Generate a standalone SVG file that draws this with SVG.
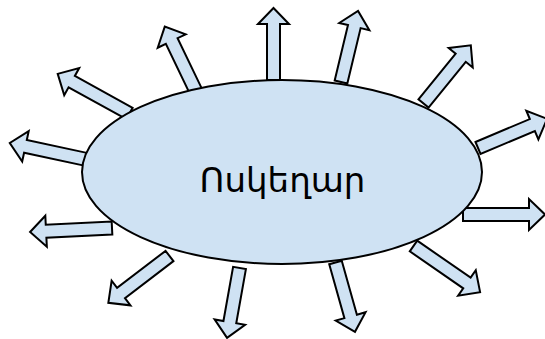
<svg xmlns="http://www.w3.org/2000/svg" width="545" height="339" viewBox="0 0 545 339">
<style>
.arr{fill:#cfe2f3;stroke:#000;stroke-width:2;stroke-linejoin:miter}
.node{fill:#cfe2f3;stroke:#000;stroke-width:2}
.lbl{font-family:"DejaVu Sans",sans-serif;font-size:34px;fill:#000}
</style>
<rect width="545" height="339" fill="#fff"/>
<g id="connectors">
<polygon class="arr" transform="translate(273.5,80) rotate(-90)" points="0,-6.5 56,-6.5 56,-15.5 72,0 56,15.5 56,6.5 0,6.5"/>
<polygon class="arr" transform="translate(341,82) rotate(-76.5)" points="0,-6.5 57,-6.5 57,-15.5 73,0 57,15.5 57,6.5 0,6.5"/>
<polygon class="arr" transform="translate(423.5,103.5) rotate(-50.9)" points="0,-6.5 59,-6.5 59,-15.5 75,0 59,15.5 59,6.5 0,6.5"/>
<polygon class="arr" transform="translate(478,148) rotate(-22.9)" points="0,-6.5 59,-6.5 59,-15.5 75,0 59,15.5 59,6.5 0,6.5"/>
<polygon class="arr" transform="translate(463,214.5)" points="0,-6.5 66,-6.5 66,-15.5 82,0 66,15.5 66,6.5 0,6.5"/>
<polygon class="arr" transform="translate(413.5,246) rotate(34.7)" points="0,-6.5 65,-6.5 65,-15.5 81,0 65,15.5 65,6.5 0,6.5"/>
<polygon class="arr" transform="translate(335.5,262.5) rotate(74.3)" points="0,-6.5 56,-6.5 56,-15.5 72,0 56,15.5 56,6.5 0,6.5"/>
<polygon class="arr" transform="translate(239.5,268) rotate(100.1)" points="0,-6.5 55,-6.5 55,-15.5 71,0 55,15.5 55,6.5 0,6.5"/>
<polygon class="arr" transform="translate(169.5,256) rotate(142.6)" points="0,-6.5 61,-6.5 61,-15.5 77,0 61,15.5 61,6.5 0,6.5"/>
<polygon class="arr" transform="translate(112,228) rotate(177.2)" points="0,-6.5 66,-6.5 66,-15.5 82,0 66,15.5 66,6.5 0,6.5"/>
<polygon class="arr" transform="translate(89,160) rotate(-167.9)" points="0,-6.5 65,-6.5 65,-15.5 81,0 65,15.5 65,6.5 0,6.5"/>
<polygon class="arr" transform="translate(129.5,113.5) rotate(-151.1)" points="0,-6.5 66,-6.5 66,-15.5 82,0 66,15.5 66,6.5 0,6.5"/>
<polygon class="arr" transform="translate(196,91.5) rotate(-115.7)" points="0,-6.5 56,-6.5 56,-15.5 72,0 56,15.5 56,6.5 0,6.5"/>
</g>
<g id="node-center">
<ellipse class="node" cx="282" cy="172" rx="200" ry="92"/>
<text class="lbl" x="282.5" y="192" text-anchor="middle">Ոսկեղար</text>
</g>
</svg>
